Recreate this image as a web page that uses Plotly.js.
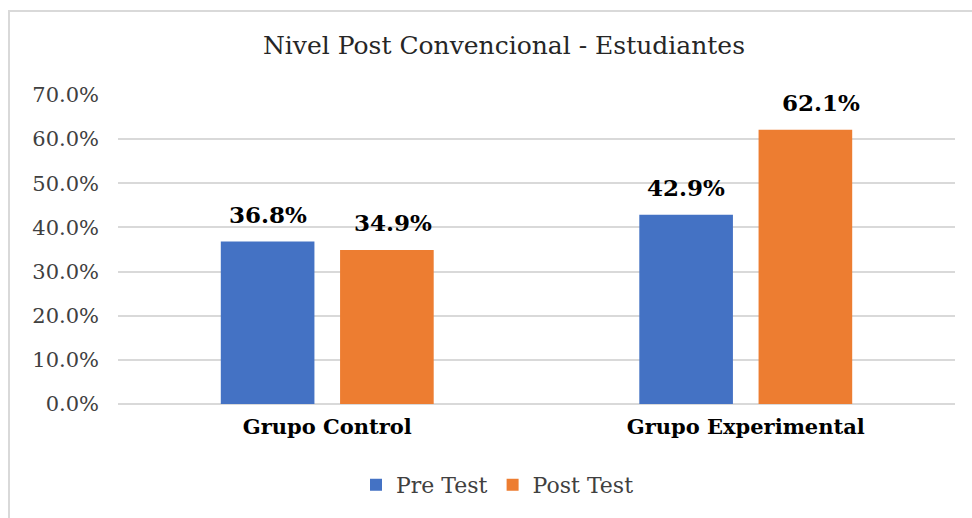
<!DOCTYPE html>
<html>
<head>
<meta charset="utf-8">
<script src="https://cdn.plot.ly/plotly-3.0.1.min.js"></script>
<style>
  html, body { margin: 0; padding: 0; background: #fff; overflow: hidden; }
  #wrap { position: relative; width: 972px; height: 518px; overflow: hidden; }
  #chart { position: absolute; left: 0; top: 0; width: 972px; height: 518px; }
  #frame { position: absolute; left: 8px; top: 10px; width: 990px; height: 540px;
           border: 2px solid #d9d9d9; box-sizing: border-box; pointer-events: none; }
</style>
</head>
<body>
<div id="wrap">
  <div id="chart"></div>
  <div id="frame"></div>
</div>
<script>
// ---- data ----
const categories = ["Grupo Control", "Grupo Experimental"];
const seriesNames = ["Pre Test", "Post Test"];
const preValues = [0.368, 0.429];
const postValues = [0.349, 0.621];
const yTickVals = [0, 0.1, 0.2, 0.3, 0.4, 0.5, 0.6, 0.7];

// ---- styles ----
const colors = ["#4472C4", "#ED7D31"];
const serif = "DejaVu Serif";
const BARGAP = 0.43, BARGROUPGAP = 0.215;
const labelNudge = [[0, 0], [6, 16]]; // [series][category] pixel nudges of data labels

const seriesValues = [preValues, postValues];
const traces = seriesValues.map((vals, s) => ({
  type: "bar",
  name: seriesNames[s],
  x: categories,
  y: vals,
  marker: { color: colors[s] },
  hoverinfo: "skip"
}));

// data labels via annotations (lifted above bars)
const half = (1 - BARGAP) / 4;
const annotations = [];
seriesValues.forEach((vals, s) => {
  vals.forEach((v, i) => {
    annotations.push({
      xref: "x", yref: "y",
      x: i + (s === 0 ? -half : half),
      y: v,
      text: (v * 100).toFixed(1) + "%",
      showarrow: false,
      yanchor: "bottom",
      xanchor: "center",
      yshift: 12,
      xshift: labelNudge[s][i],
      font: { family: serif, size: 23, color: "#000", weight: "bold" }
    });
  });
});

const layout = {
  width: 972, height: 518,
  margin: { l: 118, r: 17, t: 95, b: 114 },
  paper_bgcolor: "rgba(0,0,0,0)",
  plot_bgcolor: "rgba(0,0,0,0)",
  barmode: "group",
  bargap: BARGAP,
  bargroupgap: BARGROUPGAP,
  showlegend: true,
  title: {
    text: "Nivel Post Convencional - Estudiantes",
    font: { family: serif, size: 25, color: "#262626" },
    x: 0.5185, xref: "container", xanchor: "center",
    y: 1 - 45 / 518, yref: "container", yanchor: "middle"
  },
  xaxis: {
    type: "category",
    showgrid: false, zeroline: false, showline: false,
    ticks: "", ticklabelstandoff: 8,
    tickfont: { family: serif, size: 21, color: "#000", weight: "bold" },
    fixedrange: true
  },
  yaxis: {
    range: [0, 0.7],
    tickvals: yTickVals,
    tickformat: ".1%",
    showgrid: true, gridcolor: "#d9d9d9", gridwidth: 2,
    zeroline: true, zerolinecolor: "#d9d9d9", zerolinewidth: 2,
    showline: false, ticks: "", ticklabelstandoff: 18,
    tickfont: { family: serif, size: 21, color: "#404040" },
    fixedrange: true
  },
  legend: {
    orientation: "h",
    x: 0.4534, xanchor: "center",
    y: -0.262, yanchor: "middle",
    font: { family: serif, size: 22, color: "#404040" },
    itemwidth: 30,
    traceorder: "normal"
  },
  annotations: annotations
};

Plotly.newPlot("chart", traces, layout, { displayModeBar: false, staticPlot: true });
</script>
</body>
</html>
